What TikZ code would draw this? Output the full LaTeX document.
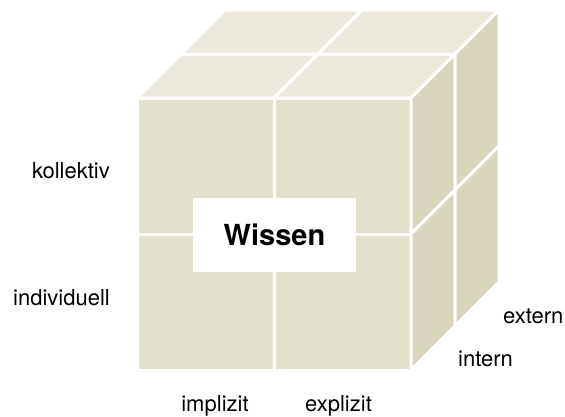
\documentclass[tikz,border=0pt]{standalone}
\usepackage{fontspec}
\setmainfont{TeX Gyre Heros}
\definecolor{frontcol}{HTML}{E3E0CC}
\definecolor{topcol}{HTML}{ECE9DC}
\definecolor{sidecol}{HTML}{D9D5BC}

\begin{document}
\begin{tikzpicture}[x=1pt,y=-1pt,
    cell/.style={draw=white,line width=3pt,line join=round},
    dimlabel/.style={font=\fontsize{22}{26}\selectfont,inner sep=0pt}]
    \useasboundingbox (0,0) rectangle (565,416);
    % front face
    \foreach \i in {0,1}
        \foreach \j in {0,1}
            \draw[cell,fill=frontcol] ({137+137*\i},{98+136*\j}) rectangle ++(137,136);
    % top face
    \foreach \i in {0,1}
        \foreach \k in {0,1}
            \draw[cell,fill=topcol] ({137+137*\i+44*\k},{98-44*\k})
                -- ++(137,0) -- ++(44,-44) -- ++(-137,0) -- cycle;
    % side face
    \foreach \k in {0,1}
        \foreach \j in {0,1}
            \draw[cell,fill=sidecol] ({411+44*\k},{98-44*\k+136*\j})
                -- ++(44,-44) -- ++(0,136) -- ++(-44,44) -- cycle;
    \node[fill=white,minimum width=163pt,minimum height=74pt,
        font=\fontsize{29}{34}\selectfont\bfseries] (wissen) at (274.5,235) {Wissen};
    \node[dimlabel,anchor=base east] (kollektiv) at (110,178) {kollektiv};
    \node[dimlabel,anchor=base east] (individuell) at (110,305) {individuell};
    \node[dimlabel,anchor=base] (implizit) at (215,411) {implizit};
    \node[dimlabel,anchor=base] (explizit) at (338.5,411) {explizit};
    \node[dimlabel,anchor=base west] (intern) at (458,366) {intern};
    \node[dimlabel,anchor=base west] (extern) at (503,323) {extern};
\end{tikzpicture}
\end{document}
